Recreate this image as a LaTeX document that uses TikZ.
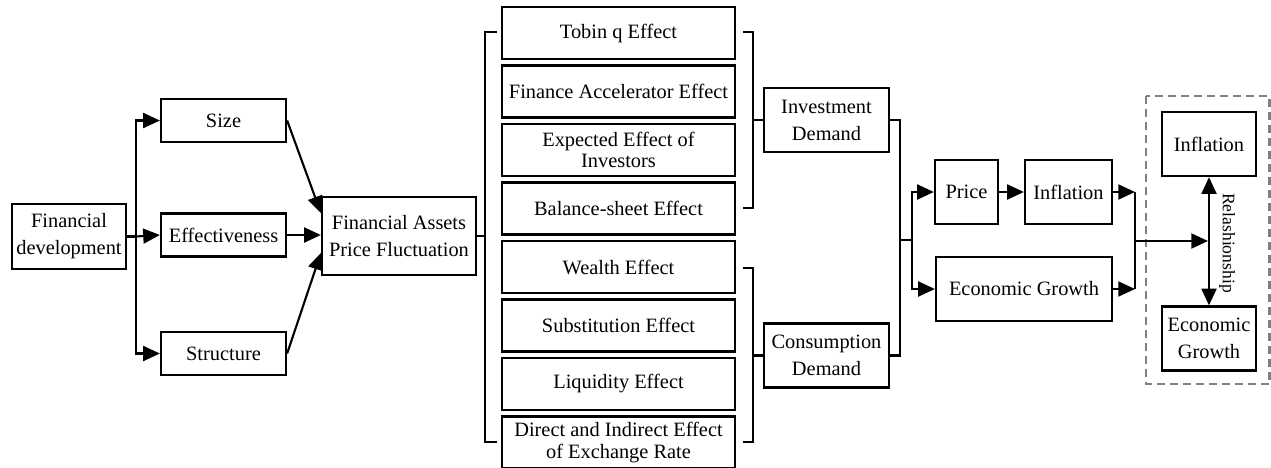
\documentclass[tikz,border=0pt]{standalone}
\usepackage{fontspec}
\setmainfont{Liberation Serif}
\usetikzlibrary{positioning,calc,arrows.meta}
\definecolor{framegray}{RGB}{128,128,128}

\begin{document}
\begin{tikzpicture}[
            x=0.02cm, y=-0.02cm,
            font=\fontsize{11.6}{15.3}\selectfont,
            box/.style={draw, rectangle, line width=1.3pt, align=center, inner sep=1pt},
            effbox/.style={box, minimum width=4.66cm, minimum height=1.04cm,
                       font=\fontsize{11.6}{12.3}\selectfont},
            arrow/.style={-{Triangle[length=9.5pt,width=8.5pt]}, line width=1.2pt},
            dblarrow/.style={{Triangle[length=9.5pt,width=8.5pt]}-{Triangle[length=9.5pt,width=8.5pt]}, line width=1.2pt},
            link/.style={line width=1.2pt}
        ]
            \useasboundingbox (0,0) rectangle (1271,467);

            \node[box, minimum width=2.28cm, minimum height=1.3cm] (findev) at (69,236.5) {Financial\\development};
            \node[box, minimum width=2.5cm, minimum height=0.86cm] (size) at (223.5,120.5) {Size};
            \node[box, minimum width=2.5cm, minimum height=0.86cm] (effect) at (223.5,235) {Effectiveness};
            \node[box, minimum width=2.5cm, minimum height=0.86cm] (struct) at (223.5,353.5) {Structure};
            \node[box, minimum width=3.08cm, minimum height=1.56cm] (fapf) at (399,236) {Financial Assets\\Price Fluctuation};

            % transmission channels
            \node[effbox] (tobin) at (618.5,33) {Tobin q Effect};
            \node[effbox] (accel) at (618.5,91.5) {Finance Accelerator Effect};
            \node[effbox] (expect) at (618.5,150) {Expected Effect of\\Investors};
            \node[effbox] (balance) at (618.5,208.5) {Balance-sheet Effect};
            \node[effbox] (wealth) at (618.5,267) {Wealth Effect};
            \node[effbox] (subst) at (618.5,325.5) {Substitution Effect};
            \node[effbox] (liquid) at (618.5,384) {Liquidity Effect};
            \node[effbox] (exrate) at (618.5,442.5) {Direct and Indirect Effect\\of Exchange Rate};

            \node[box, minimum width=2.5cm, minimum height=1.28cm] (invdem) at (826.5,120) {Investment\\Demand};
            \node[box, minimum width=2.5cm, minimum height=1.28cm] (consdem) at (826.5,355.5) {Consumption\\Demand};

            \node[box, minimum width=1.26cm, minimum height=1.28cm] (price) at (966.5,192) {Price};
            \node[box, minimum width=1.74cm, minimum height=1.28cm] (infl) at (1068.5,192) {Inflation};
            \node[box, minimum width=3.52cm, minimum height=1.28cm] (egrow) at (1024,289) {Economic Growth};

            \node[box, minimum width=1.88cm, minimum height=1.28cm] (inflR) at (1209,144) {Inflation};
            \node[box, minimum width=1.88cm, minimum height=1.28cm] (egrowR) at (1209,338.5) {Economic\\Growth};
            \node[rotate=-90, font=\fontsize{10}{12}\selectfont] (rel) at (1227,243) {Relashionship};

            \draw[framegray, line width=1.2pt, dash pattern=on 0.16cm off 0.1cm] (1146,96) rectangle (1269.5,384);

            % fork from financial development
            \coordinate (fork1) at (136,236.5);
            \draw[link] (findev.east) -- (fork1);
            \draw[arrow] (fork1) |- (size.west);
            \draw[arrow] (fork1) -- (effect.west);
            \draw[arrow] (fork1) |- (struct.west);
            \draw[arrow] (size.east) -- ([yshift=0.46cm]fapf.west);
            \draw[arrow] (effect.east) -- (effect.east -| fapf.west);
            \draw[arrow] (struct.east) -- ([yshift=-0.34cm]fapf.west);

            % brackets
            \draw[link] (497,32) -- (485,32) -- (485,442) -- (497,442);
            \draw[link] (fapf.east) -- (485,236);
            \draw[link] (743,32) -- (753,32) -- (753,208) -- (743,208);
            \draw[link] (753,120) -- (invdem.west);
            \draw[link] (743,268) -- (753,268) -- (753,442) -- (743,442);
            \draw[link] (753,355.5) -- (consdem.west);

            \coordinate (fork2) at (912,240);
            \draw[link] (invdem.east) -- (900,120) -- (900,355.5) -- (consdem.east);
            \draw[link] (900,240) -- (fork2);
            \draw[arrow] (fork2) |- (price.west);
            \draw[arrow] (fork2) |- (egrow.west);
            \draw[arrow] (price) -- (infl);

            \coordinate (join) at (1135,241);
            \draw[arrow] (infl.east) -- (1135,192);
            \draw[arrow] (egrow.east) -- (1135,289);
            \draw[link] (1135,192) -- (1135,289);
            \draw[arrow] (join) -- (1208,241);
            \draw[dblarrow] (inflR) -- (egrowR);
        \end{tikzpicture}
\end{document}
